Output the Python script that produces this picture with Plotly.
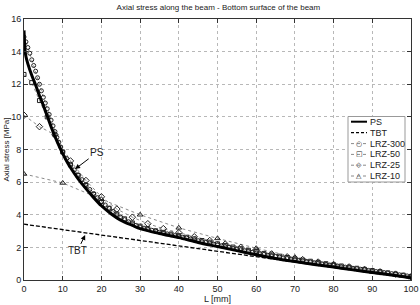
import plotly.graph_objects as go

x_ps = [0, 0.25, 0.5, 1, 2, 3, 4, 5, 6, 7, 8, 9, 10, 11, 12, 14, 16, 18, 20, 22, 24, 26, 28,
        30, 35, 40, 45, 50, 55, 60, 65, 70, 75, 80, 85, 90, 95, 100]
ps = [15.3, 14.1, 13.7, 13.25, 12.55, 11.95, 11.3, 10.7, 10.05, 9.4, 8.8, 8.25, 7.75, 7.3,
      6.9, 6.2, 5.6, 5.05, 4.55, 4.15, 3.8, 3.55, 3.35, 3.15, 2.85, 2.6, 2.3, 2.05, 1.8,
      1.55, 1.32, 1.13, 0.95, 0.79, 0.62, 0.46, 0.3, 0.13]

x_tbt = [0, 100]
tbt = [3.42, 0.1]

x_300 = [0, 0.5, 1, 1.5, 2, 2.5, 3, 3.5, 4, 4.5, 5, 5.5, 6, 6.5, 7, 7.5, 8, 8.5, 9, 9.5, 10,
         11, 12, 13, 14, 15, 16, 17, 18, 19, 20, 21, 22, 23, 24, 25, 26, 27, 28, 29, 30,
         31, 32, 33, 34, 35, 36, 37, 38, 39, 40, 41, 42, 43, 44, 45, 46, 47, 48, 49, 50,
         51, 52, 53, 54, 55, 56, 57, 58, 59, 60, 61, 62, 63, 64, 65, 66, 67, 68, 69, 70,
         71, 72, 73, 74, 75, 76, 77, 78, 79, 80, 81, 82, 83, 84, 85, 86, 87, 88, 89, 90,
         91, 92, 93, 94, 95, 96, 97, 98, 99, 100]
lrz300 = [14.9, 14.6, 14.25, 13.9, 13.5, 13.15, 12.8, 12.4, 12.0, 11.6, 11.2, 10.85, 10.5,
          10.15, 9.8, 9.45, 9.1, 8.75, 8.45, 8.15, 7.85,
          7.45, 7.1, 6.75, 6.45, 6.15, 5.85, 5.55, 5.3, 5.05, 4.8, 4.6, 4.4, 4.2, 4.0, 3.85,
          3.7, 3.57, 3.45, 3.35, 3.25,
          3.18, 3.11, 3.05, 2.99, 2.93, 2.88, 2.83, 2.77, 2.72, 2.67, 2.62, 2.57, 2.52, 2.46,
          2.41, 2.36, 2.31, 2.26, 2.2, 2.15,
          2.1, 2.05, 2.0, 1.95, 1.9, 1.85, 1.8, 1.75, 1.7, 1.65, 1.61, 1.57, 1.52, 1.48,
          1.44, 1.4, 1.36, 1.32, 1.28, 1.24,
          1.2, 1.17, 1.13, 1.1, 1.06, 1.03, 0.99, 0.96, 0.92, 0.89, 0.86, 0.82, 0.79, 0.76,
          0.72, 0.69, 0.66, 0.62, 0.59, 0.56,
          0.52, 0.49, 0.46, 0.42, 0.39, 0.36, 0.32, 0.29, 0.25, 0.22]

x_50 = list(range(0, 101, 2))
lrz50 = [12.6, 12.1, 11.0, 10.0, 8.9, 7.85, 7.05, 6.4, 5.8, 5.25, 4.8, 4.4, 4.05, 3.75, 3.5,
         3.3, 3.15, 3.02, 2.92, 2.82, 2.72, 2.62, 2.52, 2.42, 2.32, 2.22, 2.12, 2.02, 1.92,
         1.82, 1.72, 1.63, 1.54, 1.46, 1.38, 1.3, 1.22, 1.15, 1.08, 1.0, 0.93, 0.86, 0.79,
         0.72, 0.65, 0.58, 0.51, 0.44, 0.37, 0.3, 0.22]

x_25 = list(range(0, 101, 4))
lrz25 = [10.1, 9.4, 8.9, 7.3, 6.1, 5.1, 4.35, 3.85, 3.45, 3.15, 2.9, 2.65, 2.42, 2.2, 2.0,
         1.8, 1.6, 1.42, 1.25, 1.1, 0.95, 0.8, 0.65, 0.5, 0.36, 0.2]

x_10 = list(range(0, 101, 10))
lrz10 = [6.5, 5.95, 4.95, 4.0, 3.2, 2.55, 1.95, 1.4, 0.95, 0.5, 0.15]

x_ticks = list(range(0, 101, 10))
y_ticks = list(range(0, 17, 2))

legend_names = ["PS", "TBT", "LRZ-300", "LRZ-50", "LRZ-25", "LRZ-10"]
legend_glyphs = ["", "", "\u25CB", "\u25A1", "\u25C7", "\u25B3"]

FONT = "Liberation Sans, Arial, sans-serif"
INK = "#222"

fig = go.Figure()
lrz_line = dict(color="#8a8a8a", width=1, dash="dot")
fig.add_trace(go.Scatter(x=x_10, y=lrz10, name="LRZ-10", mode="lines+markers", line=lrz_line,
                         marker=dict(symbol="triangle-up-open", size=5, color=INK,
                                     line=dict(width=1, color=INK))))
fig.add_trace(go.Scatter(x=x_25, y=lrz25, name="LRZ-25", mode="lines+markers", line=lrz_line,
                         marker=dict(symbol="diamond-open", size=5, color=INK,
                                     line=dict(width=1, color=INK))))
fig.add_trace(go.Scatter(x=x_50, y=lrz50, name="LRZ-50", mode="lines+markers", line=lrz_line,
                         marker=dict(symbol="square-open", size=4, color=INK,
                                     line=dict(width=1, color=INK))))
fig.add_trace(go.Scatter(x=x_300, y=lrz300, name="LRZ-300", mode="lines+markers", line=lrz_line,
                         marker=dict(symbol="circle-open", size=4, color=INK,
                                     line=dict(width=1, color=INK))))
fig.add_trace(go.Scatter(x=x_ps, y=ps, name="PS", mode="lines",
                         line=dict(color="black", width=3, shape="spline", smoothing=0.8)))
fig.add_trace(go.Scatter(x=x_tbt, y=tbt, name="TBT", mode="lines",
                         line=dict(color="black", width=1.3, dash="4px,2px")))

# text labels with arrows
fig.add_annotation(x=13.2, y=6.8, ax=17.1, ay=7.5, axref="x", ayref="y", text="",
                   showarrow=True, arrowhead=2, arrowsize=1, arrowwidth=1, arrowcolor="black")
fig.add_annotation(x=18.8, y=7.8, text="PS", showarrow=False,
                   font=dict(family=FONT, size=10, color=INK))
fig.add_annotation(x=15.8, y=2.76, ax=14.5, ay=2.12, axref="x", ayref="y", text="",
                   showarrow=True, arrowhead=2, arrowsize=1, arrowwidth=1, arrowcolor="black")
fig.add_annotation(x=13.8, y=1.82, text="TBT", showarrow=False,
                   font=dict(family=FONT, size=10, color=INK))


# compact legend box (paper coordinates of the plot area)
def px_x(p):
    return (p - 24) / 387.0


def px_y(p):
    return (280 - p) / 261.0


fig.add_shape(type="rect", xref="paper", yref="paper", x0=px_x(348), x1=px_x(405),
              y0=px_y(182), y1=px_y(116.5), fillcolor="white",
              line=dict(color="#999", width=1), layer="above")
row_y = [121.7, 132.6, 143.6, 154.4, 165.2, 176.0]
for i, name in enumerate(legend_names):
    yy = px_y(row_y[i])
    if i == 0:
        ln = dict(color="black", width=2)
    elif i == 1:
        ln = dict(color="black", width=1.3, dash="3px,2px")
    else:
        ln = dict(color="#8a8a8a", width=1, dash="dot")
    fig.add_shape(type="line", xref="paper", yref="paper", x0=px_x(351), x1=px_x(367),
                  y0=yy, y1=yy, line=ln, layer="above")
    if legend_glyphs[i]:
        fig.add_annotation(xref="paper", yref="paper", x=px_x(359), y=yy, text=legend_glyphs[i],
                           showarrow=False, xanchor="center", yanchor="middle",
                           font=dict(family="DejaVu Sans", size=7, color=INK))
    fig.add_annotation(xref="paper", yref="paper", x=px_x(368), y=yy, text=name,
                       showarrow=False, xanchor="left", yanchor="middle",
                       font=dict(family=FONT, size=9, color=INK))

axis_common = dict(showline=True, linecolor="#333", linewidth=1, mirror="ticks",
                   ticks="inside", ticklen=4, tickcolor="#333", automargin=False,
                   showgrid=True, gridcolor="#b8b8b8", griddash="dot", gridwidth=1,
                   zeroline=False, tickfont=dict(family=FONT, size=9, color=INK))

fig.update_layout(
    width=420, height=305,
    margin=dict(l=24, r=9, t=19, b=25),
    paper_bgcolor="white", plot_bgcolor="white",
    showlegend=False,
    title=dict(text="Axial stress along the beam - Bottom surface of the beam",
               x=0.52, xanchor="center", y=0.985, yanchor="top",
               font=dict(family=FONT, size=8, color=INK)),
    xaxis=dict(range=[0, 100], tickvals=x_ticks,
               title=dict(text="L [mm]", font=dict(family=FONT, size=9, color=INK), standoff=0),
               **axis_common),
    yaxis=dict(range=[0, 16], tickvals=y_ticks,
               title=dict(text="Axial stress [MPa]", font=dict(family=FONT, size=8, color=INK),
                          standoff=0),
               **axis_common),
)

fig.write_html("out.html")
